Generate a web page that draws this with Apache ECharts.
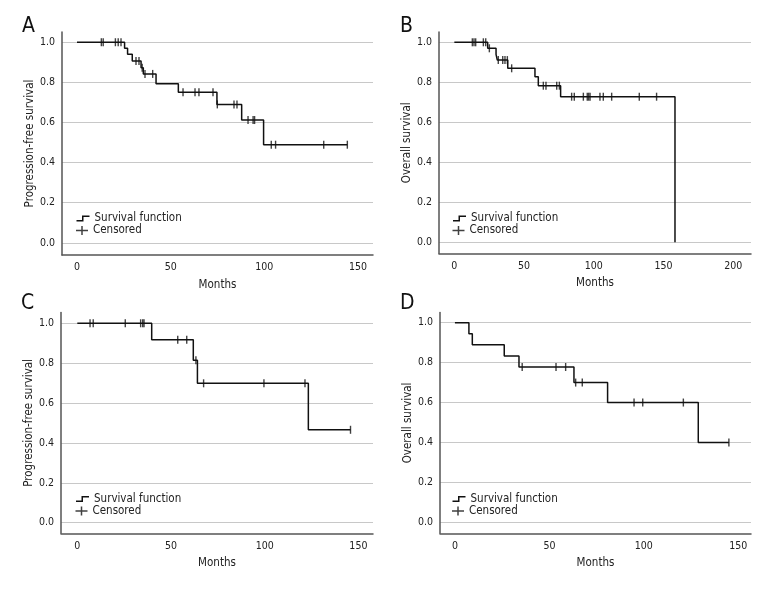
<!DOCTYPE html>
<html><head><meta charset="utf-8">
<script src="https://cdn.jsdelivr.net/npm/echarts@6/dist/echarts.min.js"></script>
<style>html,body{margin:0;padding:0;background:#fff}#c{width:780px;height:600px}</style>
</head><body><div id="c"></div>
<script>
// ---------- DATA ----------
// Panel A: progression-free survival
const aTimes = [0, 25.4, 27.0, 29.5, 34.2, 35.4, 42.2, 54.1, 74.7, 87.9, 99.6, 144.3];
const aSurv  = [1.0, 0.970, 0.940, 0.907, 0.873, 0.842, 0.793, 0.750, 0.690, 0.612, 0.489, 0.489];
const aCensT = [13, 14, 20.5, 22, 23.5, 31.5, 33.1, 34.8, 36.3, 40.4, 56.6, 63, 65.1, 72.6, 74.9, 83.8, 85.4, 91.3, 94, 94.8, 103.7, 106, 131.7, 144.3];
const aCensS = [1, 1, 1, 1, 1, 0.907, 0.907, 0.873, 0.842, 0.842, 0.750, 0.750, 0.750, 0.750, 0.690, 0.690, 0.690, 0.612, 0.612, 0.612, 0.489, 0.489, 0.489, 0.489];
// Panel B: overall survival
const bTimes = [0, 23.9, 29.9, 30.8, 38.3, 57.8, 60.2, 76.2, 158.2];
const bSurv  = [1.0, 0.970, 0.940, 0.911, 0.870, 0.828, 0.783, 0.728, 0.0];
const bCensT = [12.9, 14.1, 15.3, 20.8, 22.5, 25.1, 31.5, 34.7, 36.3, 38.0, 41.1, 63.8, 65.7, 73.4, 75.3, 84.1, 86, 92.5, 95.3, 96.3, 97.3, 104.4, 106.8, 112.8, 132.6, 145];
const bCensS = [1, 1, 1, 1, 1, 0.970, 0.911, 0.911, 0.911, 0.911, 0.870, 0.783, 0.783, 0.783, 0.783, 0.728, 0.728, 0.728, 0.728, 0.728, 0.728, 0.728, 0.728, 0.728, 0.728, 0.728];
// Panel C: progression-free survival
const cTimes = [0, 39.7, 61.9, 64.1, 123.3, 145.8];
const cSurv  = [1.0, 0.917, 0.815, 0.699, 0.466, 0.466];
const cCensT = [6.8, 8.5, 25.6, 33.8, 34.9, 35.6, 53.6, 58.4, 63.3, 67.4, 99.6, 121.5, 145.8];
const cCensS = [1, 1, 1, 1, 1, 1, 0.917, 0.917, 0.815, 0.699, 0.699, 0.699, 0.466];
// Panel D: overall survival
const dTimes = [0, 7.4, 9.2, 26.1, 33.9, 63.0, 80.8, 128.8, 145];
const dSurv  = [1.0, 0.944, 0.889, 0.833, 0.778, 0.700, 0.600, 0.400, 0.400];
const dCensT = [35.6, 53.5, 58.6, 63.9, 67.4, 94.8, 99.4, 120.9, 145];
const dCensS = [0.778, 0.778, 0.778, 0.700, 0.700, 0.600, 0.600, 0.600, 0.400];

const yTicks = [0, 0.2, 0.4, 0.6, 0.8, 1.0];
const xTicks150 = [0, 50, 100, 150];
const xTicks200 = [0, 50, 100, 150, 200];
const panelLetters = ['A', 'B', 'C', 'D'];
const yNames = ['Progression-free survival', 'Overall survival', 'Progression-free survival', 'Overall survival'];
const xName = 'Months';
const legendNames = ['Survival function', 'Censored'];

// ---------- LAYOUT ----------
const FONT = '"DejaVu Sans Condensed", "DejaVu Sans", sans-serif';
const TXT = '#222';
const panels = [
  {t: aTimes, s: aSurv, ct: aCensT, cs: aCensS, xt: xTicks150,
   grid: {left: 62, top: 32, width: 311, height: 223}, xmin: -8.0, xmax: 158.0, ymin: -0.061, ymax: 1.051,
   title: {left: 17, top: 11.5}, leg: {left: 76.5, top1: 212.5, top2: 224.5}},
  {t: bTimes, s: bSurv, ct: bCensT, cs: bCensS, xt: xTicks200,
   grid: {left: 439, top: 32, width: 312, height: 221.5}, xmin: -11.0, xmax: 212.7, ymin: -0.056, ymax: 1.0515,
   title: {left: 395, top: 11.5}, leg: {left: 453, top1: 212.5, top2: 224.5}},
  {t: cTimes, s: cSurv, ct: cCensT, cs: cCensS, xt: xTicks150,
   grid: {left: 61, top: 312.5, width: 312, height: 220.8}, xmin: -8.7, xmax: 157.8, ymin: -0.053, ymax: 1.054,
   title: {left: 16, top: 288}, leg: {left: 76, top1: 493, top2: 505}},
  {t: dTimes, s: dSurv, ct: dCensT, cs: dCensS, xt: xTicks150,
   grid: {left: 440, top: 312.5, width: 311, height: 220.8}, xmin: -7.9, xmax: 156.7, ymin: -0.055, ymax: 1.051,
   title: {left: 395, top: 288}, leg: {left: 452.5, top1: 493, top2: 505}}
];

const stepIcon = 'path://M0,4.5 L5.5,4.5 L5.5,0 L13,0 L13,1.5 L7,1.5 L7,6 L0,6 Z';
const crossIcon = 'path://M0,3.75 L12,3.75 L12,5.25 L0,5.25 Z M5.25,0 L6.75,0 L6.75,9 L5.25,9 Z';

const option = {
  backgroundColor: '#fff', animation: false,
  title: [], grid: [], xAxis: [], yAxis: [], series: [], legend: []
};

panels.forEach((p, i) => {
  option.title.push({text: panelLetters[i], left: p.title.left, top: p.title.top,
    textStyle: {fontFamily: FONT, fontSize: 21, fontWeight: 'normal', color: '#111'}});
  option.grid.push(Object.assign({containLabel: false}, p.grid));
  option.xAxis.push({
    type: 'value', gridIndex: i, min: p.xmin, max: p.xmax,
    name: xName, nameLocation: 'middle', nameGap: 24,
    nameTextStyle: {fontFamily: FONT, fontSize: 11.5, color: TXT},
    axisLine: {onZero: false, lineStyle: {color: '#555', width: 1.5}},
    axisTick: {show: false, customValues: p.xt},
    axisLabel: {customValues: p.xt, margin: 7, fontFamily: FONT, fontSize: 10.5, color: TXT},
    splitLine: {show: false}
  });
  option.yAxis.push({
    type: 'value', gridIndex: i, min: p.ymin, max: p.ymax,
    name: yNames[i], nameLocation: 'middle', nameGap: 23,
    nameTextStyle: {fontFamily: FONT, fontSize: 11.5, color: TXT},
    axisLine: {show: true, onZero: false, lineStyle: {color: '#555', width: 1.5}},
    axisTick: {show: false, customValues: yTicks},
    axisLabel: {customValues: yTicks, margin: 7, fontFamily: FONT, fontSize: 10.5, color: TXT,
      formatter: v => v.toFixed(1)},
    splitLine: {show: true, lineStyle: {color: '#c8c8c8', width: 1}}
  });
  option.series.push({
    name: legendNames[0], type: 'line', step: 'end', xAxisIndex: i, yAxisIndex: i,
    data: p.t.map((t, k) => [t, p.s[k]]), symbol: 'none', color: '#111',
    lineStyle: {color: '#111', width: 1.5}, z: 3
  });
  option.series.push({
    name: legendNames[1], type: 'scatter', xAxisIndex: i, yAxisIndex: i,
    data: p.ct.map((t, k) => [t, p.cs[k]]), symbol: 'rect', symbolSize: [1.4, 8],
    color: '#111', itemStyle: {color: '#111'}, z: 4
  });
  option.legend.push({
    data: [{name: legendNames[0], icon: stepIcon}], left: p.leg.left, top: p.leg.top1, padding: 0,
    itemWidth: 13, itemHeight: 6, selectedMode: false,
    itemStyle: {color: '#111', borderWidth: 0},
    textStyle: {fontFamily: FONT, fontSize: 11.5, color: TXT}
  });
  option.legend.push({
    data: [{name: legendNames[1], icon: crossIcon}], left: p.leg.left - 0.5, top: p.leg.top2, padding: 0,
    itemWidth: 12, itemHeight: 9, selectedMode: false,
    itemStyle: {color: '#111', borderWidth: 0},
    textStyle: {fontFamily: FONT, fontSize: 11.5, color: TXT}
  });
});

const chart = echarts.init(document.getElementById('c'), null, {renderer: 'canvas'});
chart.setOption(option);
</script>
</body></html>
